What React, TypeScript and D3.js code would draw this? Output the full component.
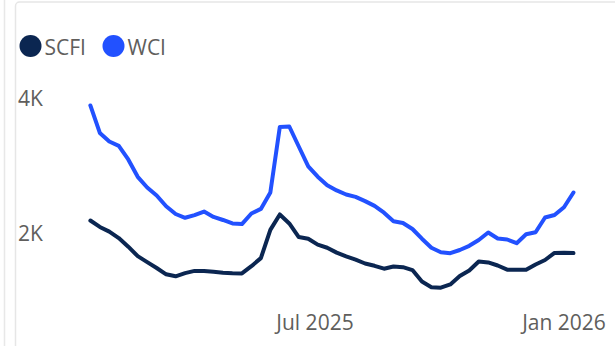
import React, { useEffect, useRef } from "react";
import * as d3 from "d3";

const dates: string[] = [
  "2025-01-16", "2025-01-23", "2025-01-30", "2025-02-06", "2025-02-13", "2025-02-20", "2025-02-27",
  "2025-03-06", "2025-03-13", "2025-03-20", "2025-03-27", "2025-04-03", "2025-04-10", "2025-04-17",
  "2025-04-24", "2025-05-01", "2025-05-08", "2025-05-15", "2025-05-22", "2025-05-29", "2025-06-05",
  "2025-06-12", "2025-06-19", "2025-06-26", "2025-07-03", "2025-07-10", "2025-07-17", "2025-07-24",
  "2025-07-31", "2025-08-07", "2025-08-14", "2025-08-21", "2025-08-28", "2025-09-04", "2025-09-11",
  "2025-09-18", "2025-09-25", "2025-10-02", "2025-10-09", "2025-10-16", "2025-10-23", "2025-10-30",
  "2025-11-06", "2025-11-13", "2025-11-20", "2025-11-27", "2025-12-04", "2025-12-11", "2025-12-18",
  "2025-12-25", "2026-01-01", "2026-01-08",
];

const wci: number[] = [
  3889, 3480, 3353, 3289, 3086, 2828, 2669, 2550, 2391, 2275, 2219, 2259, 2312, 2232, 2186, 2134,
  2125, 2283, 2351, 2595, 3569, 3576, 3279, 2984, 2830, 2703, 2626, 2565, 2529, 2467, 2396, 2294,
  2168, 2141, 2052, 1908, 1774, 1706, 1692, 1740, 1802, 1888, 2000, 1911, 1896, 1841, 1973, 2004,
  2223, 2260, 2376, 2595,
];

const scfi: number[] = [
  2178, 2083, 2013, 1917, 1789, 1648, 1560, 1472, 1378, 1349, 1396, 1429, 1428, 1416, 1402, 1395,
  1392, 1499, 1619, 2039, 2268, 2135, 1932, 1906, 1819, 1773, 1701, 1645, 1597, 1539, 1505, 1462,
  1494, 1484, 1441, 1271, 1187, 1179, 1228, 1352, 1435, 1569, 1555, 1509, 1447, 1445, 1445, 1524,
  1591, 1697, 1700, 1694,
];

const seriesNames: string[] = ["SCFI", "WCI"];
const seriesColors: string[] = ["#0B2651", "#2251FF"];
const yTicks: number[] = [2000, 4000];
const xTicks: string[] = ["2025-07-01", "2026-01-01"];

const W = 615;
const H = 346;
const FONT = "'Segoe UI', 'Open Sans', 'Noto Sans', sans-serif";
const TEXT = "#605E5C";

export default function App() {
  const ref = useRef<SVGSVGElement | null>(null);

  useEffect(() => {
    const svg = d3.select(ref.current);
    svg.selectAll("*").remove();

    const parse = (s: string) => new Date(s + "T00:00:00Z");
    const x = d3.scaleUtc()
      .domain([parse(xTicks[0]), parse(xTicks[1])])
      .range([315, 564]);
    const y = d3.scaleLinear().domain([1000, 4000]).range([299.75, 98]);

    // frame
    svg.append("line").attr("x1", 4.5).attr("x2", 4.5).attr("y1", 0).attr("y2", H)
      .attr("stroke", "#e8e8e8").attr("stroke-width", 1.5);
    svg.append("rect").attr("x", 15.5).attr("y", 2).attr("width", W + 20).attr("height", H + 20)
      .attr("rx", 4).attr("fill", "#fff").attr("stroke", "#e6e6e6").attr("stroke-width", 1.5);

    // legend
    const legendX = [30.5, 113.5];
    seriesNames.forEach((n, i) => {
      svg.append("circle").attr("cx", legendX[i]).attr("cy", 46).attr("r", 11)
        .attr("fill", seriesColors[i]);
      svg.append("text").attr("x", legendX[i] + 14).attr("y", 47)
        .attr("dominant-baseline", "central")
        .attr("font-family", FONT).attr("font-size", 21).attr("fill", TEXT)
        .text(n);
    });

    // y axis labels
    yTicks.forEach((t) => {
      svg.append("text").attr("x", 18).attr("y", y(t))
        .attr("dominant-baseline", "central")
        .attr("font-family", FONT).attr("font-size", 21).attr("fill", TEXT)
        .text(d3.format(".0s")(t).replace("k", "K"));
    });

    // x axis labels
    const fmt = d3.utcFormat("%b %Y");
    xTicks.forEach((t) => {
      svg.append("text").attr("x", x(parse(t))).attr("y", 322)
        .attr("text-anchor", "middle").attr("dominant-baseline", "central")
        .attr("font-family", FONT).attr("font-size", 21).attr("fill", TEXT)
        .text(fmt(parse(t)));
    });

    const line = d3.line<[Date, number]>()
      .x((d) => x(d[0]))
      .y((d) => y(d[1]))
      .curve(d3.curveLinear);

    [scfi, wci].forEach((vals, i) => {
      const pts: [Date, number][] = vals.map((v, k) => [parse(dates[k]), v]);
      svg.append("path").attr("d", line(pts) || "")
        .attr("fill", "none").attr("stroke", seriesColors[i])
        .attr("stroke-width", 4).attr("stroke-linejoin", "round").attr("stroke-linecap", "round");
    });
  }, []);

  return (
    <svg ref={ref} width={W} height={H}
      style={{ position: "fixed", left: 0, top: 0, background: "#fff", display: "block" }} />
  );
}
